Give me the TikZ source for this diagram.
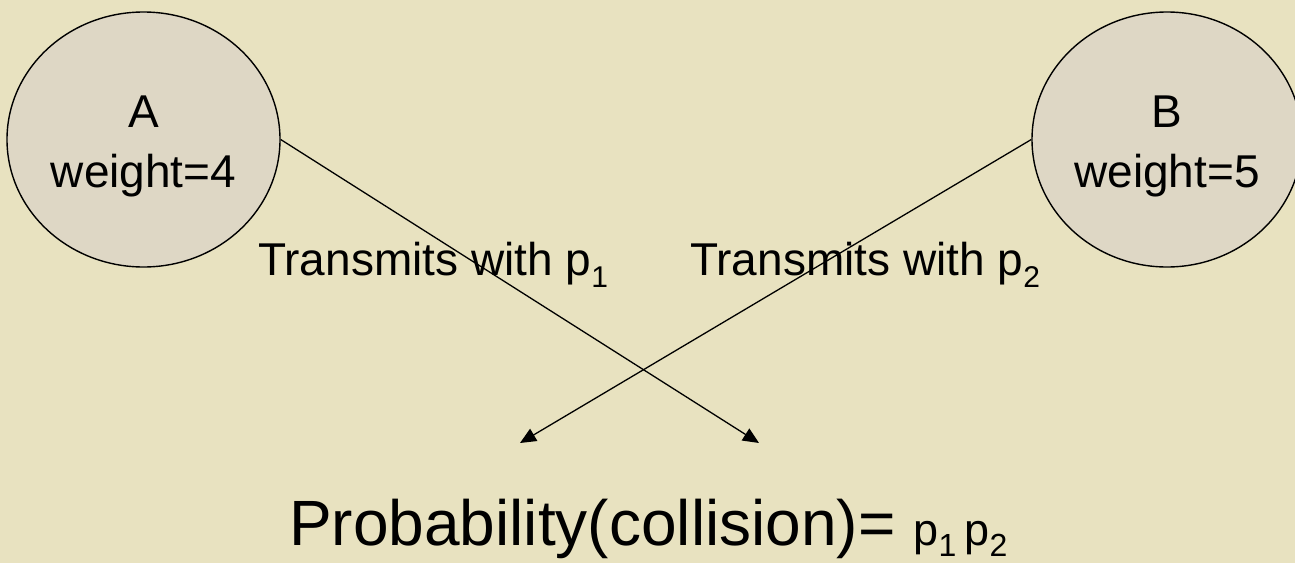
\documentclass[tikz,border=0pt]{standalone}
\usepackage{fontspec}
\setmainfont{Liberation Sans}
\usetikzlibrary{shapes.geometric,arrows.meta}
\definecolor{bgcol}{RGB}{232,226,192}
\definecolor{nodefill}{RGB}{222,215,197}
\newcommand{\mysub}[3]{\raisebox{-#2}{\fontsize{#3}{#3}\selectfont #1}}
\tikzset{
  station/.style={ellipse, draw=black, line width=1.4pt, fill=nodefill, inner sep=0pt},
  lbl/.style={inner sep=0pt, font=\fontsize{46}{46}\selectfont},
  conn/.style={line width=1.3pt, -{Triangle[length=16pt,width=14pt]}}
}
\begin{document}
\begin{tikzpicture}[x=1pt,y=-1pt]
\useasboundingbox (0,0) rectangle (1295,563);
\fill[bgcol] (0,0) rectangle (1295,563);
\clip (0,0) rectangle (1295,563);
% stations
\node[station, minimum width=273pt, minimum height=255pt] (A) at (143.5,139.5) {};
\node[station, minimum width=270pt, minimum height=255pt] (B) at (1167,139.5) {};
\node[lbl, anchor=base] (Aname) at (143.5,127) {A};
\node[lbl, anchor=base] (Aw) at (143.5,187) {weight=4};
\node[lbl, anchor=base] (Bname) at (1167,127) {B};
\node[lbl, anchor=base] (Bw) at (1167,187) {weight=5};
% arrow targets
\coordinate (tA) at (759,443);
\coordinate (tB) at (520,443);
\draw[conn] (A.east) -- (tA);
\draw[conn] (B.west) -- (tB);
% transmit labels
\node[lbl, anchor=base west] (T1) at (258,275) {Transmits with p\mysub{1}{12pt}{30}};
\node[lbl, anchor=base west] (T2) at (690,275) {Transmits with p\mysub{2}{12pt}{30}};
% result
\node[inner sep=0pt, anchor=base west] (res) at (289,545)
  {{\fontsize{64}{64}\selectfont Probability(collision)=}\hspace{18pt}{\fontsize{45}{45}\selectfont p\mysub{1}{11pt}{32}\hspace{8pt}p\mysub{2}{11pt}{32}}};
\end{tikzpicture}
\end{document}
